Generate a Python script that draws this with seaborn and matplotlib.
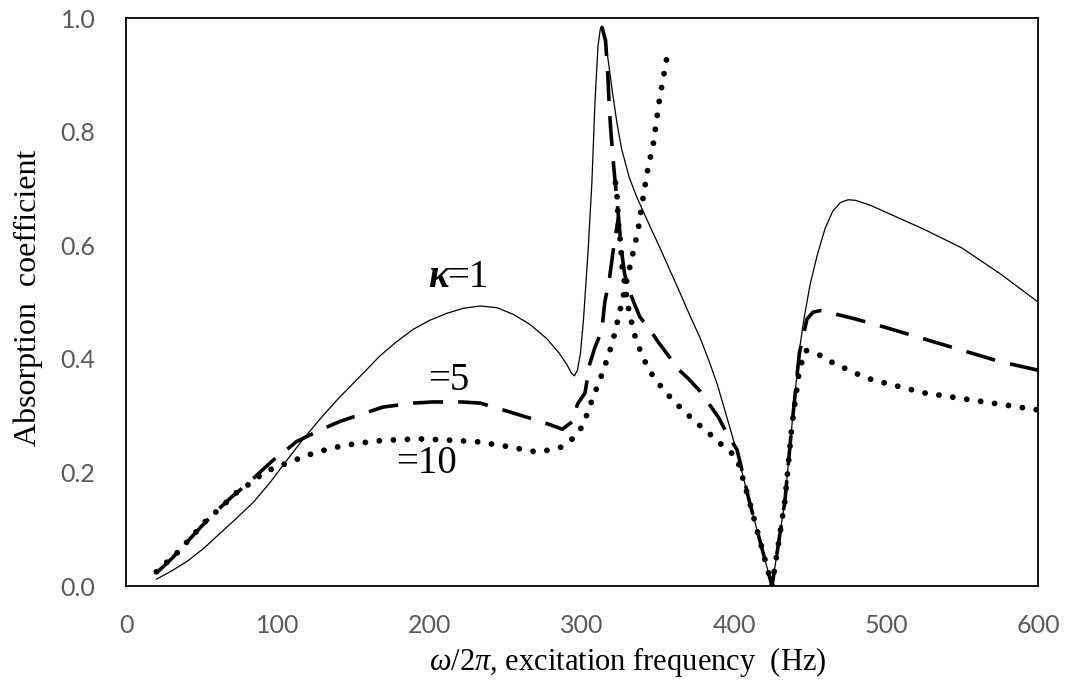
import matplotlib
matplotlib.use("Agg")
import matplotlib.pyplot as plt
import seaborn as sns

# ---------------- data ----------------
# kappa = 1 (solid)
k1_x = [20, 29, 40, 51, 62, 73, 84, 95, 106, 117, 128, 139, 147, 158, 167, 178, 189, 200, 211,
        222, 233, 244, 255, 266, 277, 285, 290, 293, 295, 297, 299, 301, 304, 306.5, 308.5,
        310.5, 312, 313, 314.5, 316, 318, 320, 323, 326, 331, 336, 341, 347, 351, 358, 364.5,
        371, 378, 384, 389, 395, 402, 410, 418, 425, 429, 433.5, 438, 443, 446, 450, 455, 460,
        465, 470, 475, 480, 490, 500, 525, 550, 575, 600]
k1_y = [0.012, 0.025, 0.043, 0.066, 0.093, 0.12, 0.148, 0.183, 0.222, 0.26, 0.295, 0.328, 0.35,
        0.38, 0.405, 0.43, 0.452, 0.468, 0.48, 0.489, 0.493, 0.49, 0.478, 0.46, 0.435, 0.41,
        0.39, 0.375, 0.37, 0.38, 0.41, 0.47, 0.59, 0.71, 0.85, 0.95, 0.98, 0.986, 0.975, 0.95,
        0.91, 0.87, 0.815, 0.77, 0.72, 0.685, 0.655, 0.62, 0.597, 0.555, 0.516, 0.476, 0.435,
        0.393, 0.355, 0.30, 0.235, 0.15, 0.07, 0.0, 0.07, 0.15, 0.28, 0.415, 0.47, 0.53, 0.585,
        0.63, 0.66, 0.675, 0.68, 0.679, 0.67, 0.658, 0.628, 0.595, 0.55, 0.50]

# kappa = 5 (dashed): lower branch and upper branch
k5a_x = [20, 30, 40, 50, 60, 70, 80, 88, 97, 103, 112, 128, 141, 159, 169, 189, 202, 221, 233,
         253, 270, 280, 287, 294, 297, 302, 305, 308.5, 313, 315, 318, 320.5, 324]
k5a_y = [0.023, 0.048, 0.077, 0.106, 0.133, 0.158, 0.18, 0.2, 0.222, 0.234, 0.254, 0.275, 0.29,
         0.306, 0.315, 0.322, 0.324, 0.324, 0.322, 0.306, 0.292, 0.283, 0.276, 0.29, 0.32, 0.34,
         0.39, 0.42, 0.45, 0.50, 0.54, 0.59, 0.65]
k5b_x = [313, 315.5, 317, 318, 319, 320.5, 321.5, 323, 324, 326, 328, 331, 334, 338, 345, 350,
         357, 364, 370, 378, 390, 395, 402, 410, 418, 425, 429, 433.5, 438, 443, 448, 452, 457,
         465, 480, 500, 525, 550, 575, 600]
k5b_y = [0.985, 0.96, 0.90, 0.84, 0.80, 0.75, 0.72, 0.68, 0.65, 0.59, 0.55, 0.52, 0.50, 0.474,
         0.45, 0.43, 0.405, 0.38, 0.365, 0.342, 0.296, 0.27, 0.24, 0.15, 0.07, 0.0, 0.07, 0.15,
         0.28, 0.41, 0.47, 0.482, 0.485, 0.48, 0.47, 0.455, 0.435, 0.415, 0.395, 0.38]

# kappa = 10 (dotted): lower (rising) branch and descending branch
k10a_x = [20, 33.5, 43, 53, 62, 72, 83, 90, 99, 108, 116, 126, 136, 145, 155, 164, 174, 193, 211,
          231, 250, 270, 280, 287, 295, 300.7, 307, 314, 320, 324.5, 329, 333, 337, 340, 343,
          347, 351, 356]
k10a_y = [0.025, 0.058, 0.086, 0.116, 0.137, 0.163, 0.183, 0.198, 0.21, 0.218, 0.227, 0.236,
          0.243, 0.248, 0.252, 0.255, 0.257, 0.259, 0.257, 0.254, 0.246, 0.236, 0.24, 0.245,
          0.262, 0.283, 0.33, 0.379, 0.428, 0.479, 0.533, 0.58, 0.628, 0.68, 0.73, 0.78, 0.857,
          0.933]
k10b_x = [322, 323, 324, 325, 326.5, 328, 331, 333, 335.5, 339, 343, 348, 354, 360, 368, 374, 382,
          389, 396, 402, 410, 418, 425, 429, 433.5, 438, 443, 447, 456, 465, 474, 483, 491, 500,
          525, 550, 575, 600]
k10b_y = [0.71, 0.688, 0.637, 0.613, 0.56, 0.533, 0.482, 0.46, 0.433, 0.41, 0.386, 0.364, 0.345,
          0.326, 0.306, 0.29, 0.273, 0.255, 0.24, 0.225, 0.15, 0.07, 0.0, 0.07, 0.15, 0.28, 0.38,
          0.415, 0.407, 0.393, 0.382, 0.371, 0.363, 0.357, 0.34, 0.33, 0.32, 0.31]

x_ticks = [0, 100, 200, 300, 400, 500, 600]
y_ticks = [0.0, 0.2, 0.4, 0.6, 0.8, 1.0]
x_label = r"$\mathit{\omega/2\pi}$, excitation frequency  (Hz)"
y_label = "Absorption  coefficient"

# ---------------- figure ----------------
sns.set_style("white")
plt.rcParams['font.family'] = ['Liberation Serif', 'DejaVu Serif']
plt.rcParams['mathtext.fontset'] = 'custom'
plt.rcParams['mathtext.rm'] = 'Liberation Serif'
plt.rcParams['mathtext.it'] = 'Liberation Serif:italic'
plt.rcParams['mathtext.bf'] = 'Liberation Serif:bold'

fig = plt.figure(figsize=(10.81, 6.83), dpi=100)
ax = fig.add_axes([126 / 1081, 1 - 586 / 683, (1038 - 126) / 1081, (586 - 18) / 683])

solid_kw = dict(color="black", linewidth=0.9, sort=False, estimator=None, ax=ax)
sns.lineplot(x=k1_x, y=k1_y, **solid_kw)

dash_kw = dict(color="black", linewidth=2.6, sort=False, estimator=None, ax=ax,
               linestyle=(0, (8.3, 4.2)))
sns.lineplot(x=k5a_x, y=k5a_y, **dash_kw)
sns.lineplot(x=k5b_x, y=k5b_y, **dash_kw)

dot_kw = dict(color="black", linewidth=4.2, sort=False, estimator=None, ax=ax,
              linestyle=(0, (0.01, 2.4)), dash_capstyle="round")
sns.lineplot(x=k10a_x, y=k10a_y, **dot_kw)
sns.lineplot(x=k10b_x, y=k10b_y, **dot_kw)

ax.set_xlim(0, 600)
ax.set_ylim(0, 1.0)
ax.set_xticks(x_ticks)
ax.set_yticks(y_ticks)
ax.set_xticklabels([str(v) for v in x_ticks], fontfamily="Lato", fontsize=18, color="#595959")
ax.set_yticklabels([f"{v:.1f}" for v in y_ticks], fontfamily="Lato", fontsize=18, color="#595959")
ax.tick_params(axis="both", length=0)
ax.tick_params(axis="x", pad=20)
ax.tick_params(axis="y", pad=22)

for s in ax.spines.values():
    s.set_visible(True)
    s.set_color("black")
    s.set_linewidth(1.3)

ax.set_xlabel("")
ax.set_ylabel("")
fig.text((430 + 825) / 2 / 1081, 1 - 662 / 683, x_label, ha="center", va="center",
         fontsize=22, color="black")
fig.text(28 / 1081, 1 - 298 / 683, y_label, ha="center", va="center", rotation=90,
         fontsize=23, color="black")

# curve annotations
ax.text(198.7, 0.526, "κ", fontsize=28, fontweight="bold", fontstyle="italic",
        ha="left", va="baseline", color="black")
ax.text(211, 0.526, "=1", fontsize=28, ha="left", va="baseline", color="black")
ax.text(198.7, 0.345, "=5", fontsize=28, ha="left", va="baseline", color="black")
ax.text(178, 0.199, "=10", fontsize=28, ha="left", va="baseline", color="black")

fig.savefig("out.png", dpi=100)
